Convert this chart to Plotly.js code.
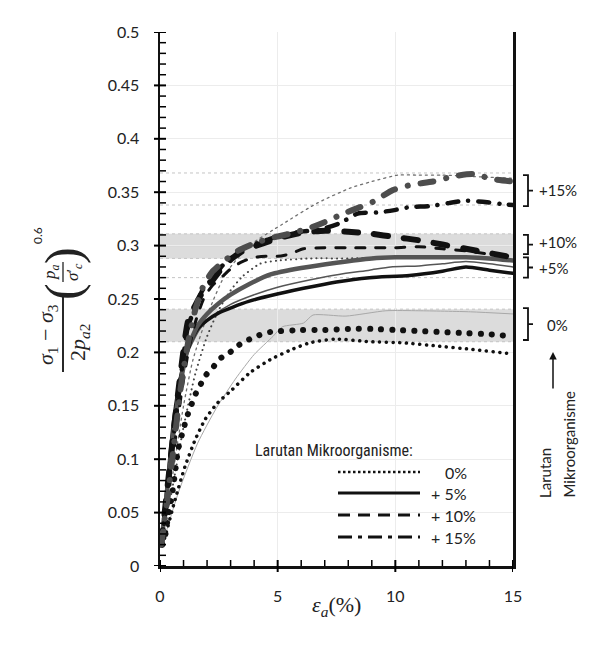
<!DOCTYPE html>
<html>
<head>
<meta charset="utf-8">
<script src="https://cdn.plot.ly/plotly-3.0.1.min.js"></script>
<style>
html,body{margin:0;padding:0;background:#fff;}
#chart .scatterlayer path.js-line{stroke-linecap:round !important;stroke-linejoin:round !important;}
</style>
</head>
<body>
<div id="chart" style="width:599px;height:656px;"></div>
<script>
// ---- data ----
// 0% microorganism solution
const x0a = [0.1, 0.21, 0.34, 0.5, 0.64, 0.77, 1.02, 1.15, 1.32, 1.49, 1.7, 1.96, 2.25, 2.6, 2.97, 3.36, 3.78, 4.2, 4.67, 6, 7, 8, 9, 10, 11, 12, 13, 14, 15];
const y0a = [0.02, 0.027, 0.046, 0.065, 0.087, 0.109, 0.13, 0.14, 0.15, 0.16, 0.169, 0.179, 0.186, 0.195, 0.2, 0.207, 0.212, 0.216, 0.219, 0.221, 0.221, 0.222, 0.222, 0.221, 0.22, 0.219, 0.218, 0.217, 0.215];
const x0b = [0.1, 0.21, 0.64, 1.06, 1.49, 1.91, 2.46, 3.06, 3.82, 4.67, 5.52, 6.37, 7.44, 8.92, 10.33, 11.77, 13.17, 14.87, 15];
const y0b = [0.02, 0.027, 0.062, 0.093, 0.118, 0.137, 0.153, 0.165, 0.181, 0.193, 0.202, 0.209, 0.2125, 0.21, 0.209, 0.206, 0.203, 0.199, 0.199];
const x0c = [0.1, 0.8, 1.6, 2.4, 3.2, 4.0, 4.8, 5.2, 6.1, 6.5, 7.9, 9.6, 11, 13.2, 15];
const y0c = [0.02, 0.07, 0.115, 0.148, 0.175, 0.198, 0.215, 0.224, 0.2275, 0.235, 0.234, 0.239, 0.239, 0.238, 0.236];
// +5%
const x5a = [0.05, 0.3, 0.6, 0.9, 1.2, 1.6, 2.0, 2.5, 3.0, 3.8, 4.7, 6.0, 7.5, 9.0, 10, 11, 12, 13, 14, 15];
const y5a = [0.02, 0.07, 0.13, 0.175, 0.205, 0.225, 0.236, 0.246, 0.254, 0.264, 0.273, 0.279, 0.284, 0.288, 0.289, 0.289, 0.289, 0.289, 0.288, 0.286];
const x5b = [0.05, 0.3, 0.6, 0.9, 1.2, 1.6, 2.0, 2.5, 3.1, 3.8, 4.67, 6.1, 7.5, 8.9, 10.6, 12, 13, 14, 15];
const y5b = [0.02, 0.075, 0.14, 0.18, 0.205, 0.222, 0.23, 0.237, 0.2425, 0.248, 0.253, 0.26, 0.266, 0.27, 0.272, 0.276, 0.28, 0.277, 0.274];
const x5c = [0.05, 0.4, 0.8, 1.2, 1.7, 2.3, 3, 4, 5, 6.4, 7.6, 8.9, 9.8, 11, 12, 13, 14, 15];
const y5c = [0.02, 0.09, 0.16, 0.2, 0.222, 0.235, 0.245, 0.254, 0.261, 0.268, 0.273, 0.277, 0.28, 0.281, 0.283, 0.285, 0.283, 0.28];
// +10%
const x10a = [0.05, 0.3, 0.6, 0.9, 1.2, 1.5, 1.8, 2.25, 2.6, 3.06, 3.6, 4.5, 5.2, 6, 7, 8, 9, 10, 11, 12, 13, 14, 15];
const y10a = [0.02, 0.07, 0.13, 0.185, 0.23, 0.244, 0.256, 0.268, 0.278, 0.288, 0.296, 0.303, 0.308, 0.312, 0.314, 0.313, 0.311, 0.308, 0.305, 0.301, 0.297, 0.293, 0.289];
const x10b = [0.05, 0.3, 0.6, 0.9, 1.2, 1.5, 1.85, 2.2, 2.7, 3.1, 3.5, 4.0, 4.5, 5.0, 5.5, 6.1, 7, 8, 9, 10, 11, 12, 13, 14, 15];
const y10b = [0.02, 0.06, 0.11, 0.16, 0.2, 0.228, 0.25, 0.262, 0.272, 0.28, 0.285, 0.289, 0.29, 0.29, 0.292, 0.297, 0.298, 0.298, 0.298, 0.298, 0.299, 0.297, 0.295, 0.292, 0.289];
const x10c = [0.05, 0.5, 1, 1.5, 2, 2.5, 3, 3.5, 4.25, 5, 6.4, 8, 10, 12, 13, 14, 15];
const y10c = [0.02, 0.07, 0.13, 0.18, 0.215, 0.24, 0.258, 0.271, 0.283, 0.286, 0.288, 0.288, 0.289, 0.289, 0.289, 0.288, 0.287];
// +15%
const x15a = [0.05, 0.3, 0.6, 0.9, 1.2, 1.5, 1.8, 2.25, 2.6, 3.06, 3.6, 4.5, 5.2, 6, 6.8, 7.65, 8.4, 9.2, 9.9, 10.6, 11.5, 12.3, 13, 13.7, 14.5, 15];
const y15a = [0.02, 0.065, 0.125, 0.18, 0.225, 0.242, 0.258, 0.27, 0.28, 0.29, 0.298, 0.305, 0.31, 0.313, 0.315, 0.321, 0.33, 0.331, 0.333, 0.336, 0.337, 0.34, 0.342, 0.341, 0.339, 0.338];
const x15b = [0.05, 0.3, 0.6, 0.9, 1.2, 1.5, 1.8, 2.2, 2.7, 3.3, 4, 4.7, 5.5, 6.3, 7, 7.8, 8.5, 9.05, 9.9, 10.7, 11.6, 12.5, 13.3, 14.2, 15];
const y15b = [0.02, 0.06, 0.115, 0.17, 0.21, 0.24, 0.26, 0.275, 0.285, 0.295, 0.302, 0.307, 0.311, 0.316, 0.322, 0.33, 0.336, 0.341, 0.352, 0.357, 0.36, 0.365, 0.367, 0.362, 0.36];
const x15c = [0.05, 0.5, 1, 1.4, 2.1, 2.8, 3.8, 5.2, 6.7, 8.1, 9, 10.1, 11, 12, 13, 14, 15];
const y15c = [0.02, 0.08, 0.15, 0.193, 0.24, 0.274, 0.3, 0.32, 0.34, 0.354, 0.36, 0.366, 0.366, 0.366, 0.365, 0.364, 0.363];

// ranges marked on the right of the plot
const groupLabels = ["+15%", "+10%", "+5%", "0%"];
const groupLow  = [0.337, 0.292, 0.27, 0.2116];
const groupHigh = [0.366, 0.31, 0.289, 0.2415];
const groupLabelY = [0.352, 0.303, 0.279, 0.226];
const bandLow  = [0.288, 0.21];
const bandHigh = [0.311, 0.2405];
const refLines = [0.368, 0.338, 0.311, 0.288, 0.27, 0.2405, 0.21];

const legendLabels = ["0%", "+ 5%", "+ 10%", "+ 15%"];

// ---- helpers for pixel placement ----
const L = 160, R = 513, T = 32, B = 566;
const px = v => (v - L) / (R - L);
const py = v => (B - v) / (B - T);

function line(x, y, color, width, dash) {
  return {x: x, y: y, type: 'scatter', mode: 'lines', hoverinfo: 'skip', showlegend: false,
          line: {color: color, width: width, dash: dash, shape: 'spline', smoothing: 0.6}};
}

const traces = [
  line(x0c, y0c, '#a8a8a8', 1, 'solid'),
  line(x15c, y15c, '#707070', 1.3, '2px,4px'),
  line(x10c, y10c, '#444', 2, '0.1px,5px'),
  line(x5c, y5c, '#555', 1.5, 'solid'),
  line(x0b, y0b, '#111', 3.5, '0.1px,6.6px'),
  line(x5b, y5b, '#111', 3.5, 'solid'),
  line(x5a, y5a, '#555', 4.5, 'solid'),
  line(x10b, y10b, '#111', 3, '9px,11px'),
  line(x0a, y0a, '#111', 6, '0.1px,11px'),
  line(x15a, y15a, '#111', 4.5, '11px,10px,0.1px,10px'),
  line(x10a, y10a, '#111', 6, '14px,16px'),
  line(x15b, y15b, '#4d4d4d', 6, '13px,13px,0.1px,13px')
];

const shapes = [];
bandLow.forEach((lo, i) => {
  shapes.push({type: 'rect', xref: 'x', yref: 'y', x0: 0, x1: 15, y0: lo, y1: bandHigh[i],
               fillcolor: '#dcdcdc', line: {width: 0}, layer: 'below'});
});
shapes.push({type: 'line', xref: 'x', yref: 'y', x0: 0, x1: 15, y0: 0.3, y1: 0.3,
             line: {color: '#bdbdbd', width: 1}, layer: 'below'});
refLines.forEach(v => {
  shapes.push({type: 'line', xref: 'x', yref: 'y', x0: 0, x1: 15, y0: v, y1: v,
               line: {color: '#c4c4c4', width: 1, dash: '3px,3px'}, layer: 'below'});
});
// axis tick marks (major ones cross the axis, minor ones point inward), placed through the axis scales
for (let k = 0; k <= 15; k++) {
  const major = k % 5 === 0;
  shapes.push({type: 'line', xref: 'x', yref: 'paper', ysizemode: 'pixel', yanchor: 0,
               x0: k, x1: k, y0: major ? -6 : 0, y1: 6, line: {color: '#000', width: major ? 2 : 1.5}});
}
for (let k = 0; k <= 50; k++) {
  const major = k % 5 === 0;
  const v = k / 100;
  shapes.push({type: 'line', xref: 'paper', yref: 'y', xsizemode: 'pixel', xanchor: 0,
               y0: v, y1: v, x0: major ? -6 : 0, x1: 6, line: {color: '#000', width: major ? 2 : 1.5}});
}
// brackets
groupLow.forEach((lo, i) => {
  const hi = groupHigh[i], mid = (lo + hi) / 2;
  const a = px(523), b = px(528), c = px(533);
  shapes.push({type: 'path', xref: 'paper', yref: 'y',
    path: `M ${a},${hi} L ${b},${hi} L ${b},${mid} L ${c},${mid} M ${b},${mid} L ${b},${lo} L ${a},${lo}`,
    line: {color: '#111', width: 1.8}});
});
// legend samples
const legY = [472, 493, 515, 537];
const legDash = ['2.5px,2.5px', 'solid', '12px,8px', '14px,6px,4px,6px'];
const legW = [2.5, 3, 3, 3];
legY.forEach((yy, i) => {
  shapes.push({type: 'line', xref: 'paper', yref: 'paper', x0: px(338), x1: px(420), y0: py(yy), y1: py(yy),
               line: {color: '#111', width: legW[i], dash: legDash[i]}});
});
// y title fraction bars
shapes.push({type: 'line', xref: 'paper', yref: 'paper', x0: px(63), x1: px(63), y0: py(297), y1: py(372), line: {color: '#111', width: 1.8}});
shapes.push({type: 'line', xref: 'paper', yref: 'paper', x0: px(63), x1: px(63), y0: py(262), y1: py(282), line: {color: '#111', width: 1.2}});

const sans = 'Lato, "Open Sans", sans-serif';
const serif = '"Liberation Serif", "DejaVu Serif", serif';
function ann(text, x, y, opts) {
  return Object.assign({text: text, x: x, y: y, xref: 'paper', yref: 'paper', showarrow: false,
                        xanchor: 'center', yanchor: 'middle', font: {family: sans, size: 15, color: '#222'}}, opts || {});
}
const annotations = [];
groupLabels.forEach((t, i) => {
  annotations.push(ann(t, px(i === 3 ? 545 : 537), 0, {yref: 'y', y: groupLabelY[i], xanchor: 'left'}));
});
annotations.push(ann('Larutan Mikroorganisme:', px(334), py(450),
  {font: {family: '"Liberation Sans Narrow", "Arial Narrow", "Roboto Condensed", sans-serif', size: 16, color: '#222'}}));
legendLabels.forEach((t, i) => {
  annotations.push(ann(t, px(i === 0 ? 443 : 429), py(legY[i]), {xanchor: 'left', font: {family: sans, size: 16, color: '#222'}}));
});
annotations.push(ann('Larutan', px(545), py(500), {textangle: -90, yanchor: 'bottom'}));
annotations.push(ann('Mikroorganisme', px(568), py(500), {textangle: -90, yanchor: 'bottom'}));
annotations.push({text: '', x: px(553), y: py(352), xref: 'paper', yref: 'paper', showarrow: true,
                  ax: 0, ay: 38, arrowhead: 2, arrowsize: 1, arrowwidth: 1.5, arrowcolor: '#111'});
// x title
annotations.push(ann('<i>ε</i><sub><i>a</i></sub>(%)', px(336), py(606), {font: {family: serif, size: 22, color: '#222'}}));
// y title pieces
annotations.push(ann('<i>σ</i><sub>1</sub> − <i>σ</i><sub>3</sub>', px(47), py(335), {textangle: -90, font: {family: serif, size: 22, color: '#222'}}));
annotations.push(ann('2<i>p</i><sub><i>a</i>2</sub>', px(79), py(343), {textangle: -90, font: {family: serif, size: 22, color: '#222'}}));
annotations.push(ann('(', px(63), py(291), {textangle: -90, font: {family: serif, size: 50, color: '#222'}}));
annotations.push(ann(')', px(63), py(255), {textangle: -90, font: {family: serif, size: 50, color: '#222'}}));
annotations.push(ann('<i>p</i><sub><i>a</i></sub>', px(51), py(272), {textangle: -90, font: {family: serif, size: 17, color: '#222'}}));
annotations.push(ann('<i>σ</i>′<sub><i>c</i></sub>', px(74), py(272), {textangle: -90, font: {family: serif, size: 17, color: '#222'}}));
annotations.push(ann('0.6', px(37), py(236), {textangle: -90, font: {family: sans, size: 12, color: '#222'}}));

const layout = {
  width: 599, height: 656,
  margin: {l: L, r: 599 - R, t: T, b: 656 - B},
  paper_bgcolor: '#fff', plot_bgcolor: '#fff',
  font: {family: sans, color: '#222'},
  showlegend: false,
  xaxis: {range: [0, 15], dtick: 5, ticks: '', showline: true, linewidth: 2.5, linecolor: '#111',
          showgrid: true, gridcolor: '#ececec', zeroline: false,
          tickfont: {family: sans, size: 16, color: '#222'}, ticklabelstandoff: 14},
  yaxis: {range: [0, 0.5], dtick: 0.05, ticks: '', showline: true, linewidth: 2.5, linecolor: '#111', mirror: true,
          showgrid: true, gridcolor: '#ececec', zeroline: false,
          tickfont: {family: sans, size: 16, color: '#222'}, ticklabelstandoff: 15},
  shapes: shapes,
  annotations: annotations
};

Plotly.newPlot('chart', traces, layout, {displayModeBar: false, staticPlot: true});
</script>
</body>
</html>
